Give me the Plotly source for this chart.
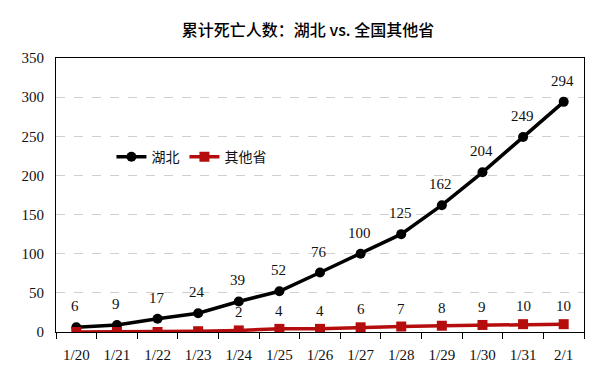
import plotly.graph_objects as go

dates = ["1/20", "1/21", "1/22", "1/23", "1/24", "1/25", "1/26",
         "1/27", "1/28", "1/29", "1/30", "1/31", "2/1"]
hubei = [6, 9, 17, 24, 39, 52, 76, 100, 125, 162, 204, 249, 294]
others = [0, 0, 0, 1, 2, 4, 4, 6, 7, 8, 9, 10, 10]
others_label_start = 4  # labels shown from 1/24

title = "累计死亡人数：湖北 vs. 全国其他省"
serif = "Liberation Serif"
cjk = "Noto Sans CJK SC"

fig = go.Figure()
fig.add_trace(go.Scatter(
    x=dates, y=hubei, mode="lines+markers", name="湖北",
    line=dict(color="#000000", width=3.5),
    marker=dict(symbol="circle", size=10, color="#000000"),
))
fig.add_trace(go.Scatter(
    x=dates, y=others, mode="lines+markers", name="其他省",
    line=dict(color="#b50d0d", width=3.5),
    marker=dict(symbol="square", size=10, color="#b50d0d"),
))

annotations = []
for d, v in zip(dates, hubei):
    annotations.append(dict(x=d, y=v, text=str(v), showarrow=False,
                            yshift=21, xshift=-1,
                            font=dict(family=serif, size=15, color="#111")))
for d, v in list(zip(dates, others))[others_label_start:]:
    annotations.append(dict(x=d, y=v, text=str(v), showarrow=False,
                            yshift=18,
                            font=dict(family=serif, size=15, color="#111")))

fig.update_layout(
    width=600, height=376,
    margin=dict(l=48, r=24, t=50, b=52),
    paper_bgcolor="white", plot_bgcolor="white",
    font=dict(family=serif),
    title=dict(text=title, x=0.5, xanchor="center", y=0.94, yanchor="middle",
               font=dict(family=cjk, size=16, color="#000", weight=500)),
    showlegend=True,
    legend=dict(orientation="h", x=0.105, xanchor="left", y=0.638, yanchor="middle",
                bgcolor="rgba(0,0,0,0)", font=dict(family=cjk, size=14, color="#111"),
                itemwidth=30, tracegroupgap=0),
    annotations=annotations,
)
fig.update_xaxes(
    type="category", range=[-0.5, 12.5],
    tickson="boundaries", ticks="outside", ticklen=6, tickcolor="#000",
    showline=True, linecolor="#000", linewidth=1.2, mirror=True,
    showgrid=False, ticklabelstandoff=9,
    tickfont=dict(family=serif, size=15, color="#111"),
)
fig.update_yaxes(
    range=[0, 350], dtick=50, ticks="",
    showline=True, linecolor="#000", linewidth=1.2, mirror=True,
    showgrid=True, gridcolor="#d0d0d0", griddash="dash", gridwidth=1,
    zeroline=False, ticklabelstandoff=8,
    tickfont=dict(family=serif, size=15, color="#111"),
)

fig.write_html("out.html")
